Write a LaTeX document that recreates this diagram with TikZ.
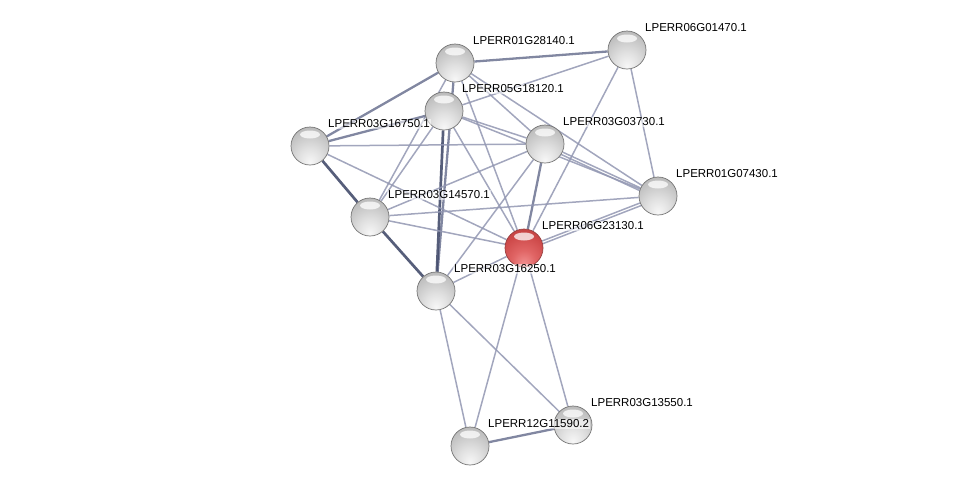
\documentclass[tikz,border=0pt]{standalone}
\usepackage{fontspec}
\setmainfont{Liberation Sans}
\usetikzlibrary{backgrounds}
\definecolor{ec1}{RGB}{146,151,178}
\definecolor{ec2}{RGB}{112,118,148}
\definecolor{ec3}{RGB}{68,76,108}
\pgfdeclareradialshading{sph}{\pgfpoint{0bp}{-22bp}}{color(0bp)=(white!97!black); color(15bp)=(white!88!black); color(32bp)=(white!76!black); color(50bp)=(white!66!black); color(65bp)=(white!58!black); color(80bp)=(white!52!black)}
\pgfdeclareradialshading{sphred}{\pgfpoint{0bp}{-22bp}}{color(0bp)=(red!40!white!95!black); color(15bp)=(red!55!white!88!black); color(32bp)=(red!65!white!80!black); color(50bp)=(red!65!white!70!black); color(65bp)=(red!65!white!60!black); color(80bp)=(red!65!white!52!black)}
\tikzset{
  prot/.style={circle, minimum size=38pt, inner sep=0pt, shading=sph, draw=black!55, line width=0.7pt},
  protred/.style={prot, shading=sphred, draw=red!45!black!75},
  lbl/.style={anchor=west, font=\fontsize{11.5}{13}\selectfont, inner sep=1pt, fill=white, fill opacity=0.55, text opacity=1},
  e1/.style={draw=ec1, line width=1.5pt, opacity=0.85},
  e2/.style={draw=ec2, line width=2.3pt, opacity=0.88},
  e3/.style={draw=ec3, line width=2.7pt, opacity=0.9},
  hl/.style={fill=white, opacity=0.75}
}
\begin{document}
\begin{tikzpicture}[x=1pt,y=-1pt]
\useasboundingbox (0,0) rectangle (976,491);
\node[prot] (A) at (455,63) {};
\node[prot] (B) at (627,50) {};
\node[prot] (C) at (444,111) {};
\node[prot] (D) at (310,146) {};
\node[prot] (E) at (545,144) {};
\node[prot] (F) at (658,196) {};
\node[prot] (G) at (370,217) {};
\node[protred] (H) at (524,248) {};
\node[prot] (I) at (436,291) {};
\node[prot] (J) at (573,425) {};
\node[prot] (K) at (470,446) {};
\foreach \n in {A,B,C,D,E,F,G,H,I,J,K}{
  \fill[hl] ([yshift=11.5pt]\n.center) ellipse (10pt and 4pt);
}
\begin{pgfonlayer}{background}
\draw[e2] (A) -- (B);
\draw[e2] (A) -- (D);
\draw[e1] (A) -- (G);
\draw[e2] (A) -- (I);
\draw[e1] (A) -- (H);
\draw[e1] (A) -- (E);
\draw[e1] (A) -- (F);
\draw[e1] (B) -- (C);
\draw[e1] (B) -- (H);
\draw[e1] (B) -- (F);
\draw[e2] (C) -- (D);
\draw[e1] (C) -- (E);
\draw[e1] (C) -- (F);
\draw[e1] (C) -- (G);
\draw[e3] (C) -- (I);
\draw[e1] (C) -- (H);
\draw[e1] (D) -- (E);
\draw[e1] (D) -- (H);
\draw[e3] (D) -- (G);
\draw[e1] (E) -- (F);
\draw[e1] ([yshift=-3pt]E.center) -- ([yshift=-3pt]F.center);
\draw[e1] (E) -- (G);
\draw[e2] (E) -- (H);
\draw[e1] (E) -- (I);
\draw[e1] (F) -- (G);
\draw[e1] (F) -- (H);
\draw[e1] ([yshift=-3pt]F.center) -- ([yshift=-3pt]H.center);
\draw[e1] (G) -- (H);
\draw[e3] (G) -- (I);
\draw[e1] (H) -- (I);
\draw[e1] (H) -- (J);
\draw[e1] (H) -- (K);
\draw[e1] (I) -- (J);
\draw[e1] (I) -- (K);
\draw[e2] (J) -- (K);
\end{pgfonlayer}
\node[lbl] (lA) at ([shift={(17pt,22pt)}]A.center) {LPERR01G28140.1};
\node[lbl] (lB) at ([shift={(17pt,22pt)}]B.center) {LPERR06G01470.1};
\node[lbl] (lC) at ([shift={(17pt,22pt)}]C.center) {LPERR05G18120.1};
\node[lbl] (lD) at ([shift={(17pt,22pt)}]D.center) {LPERR03G16750.1};
\node[lbl] (lE) at ([shift={(17pt,22pt)}]E.center) {LPERR03G03730.1};
\node[lbl] (lF) at ([shift={(17pt,22pt)}]F.center) {LPERR01G07430.1};
\node[lbl] (lG) at ([shift={(17pt,22pt)}]G.center) {LPERR03G14570.1};
\node[lbl] (lH) at ([shift={(17pt,22pt)}]H.center) {LPERR06G23130.1};
\node[lbl] (lI) at ([shift={(17pt,22pt)}]I.center) {LPERR03G16250.1};
\node[lbl] (lJ) at ([shift={(17pt,22pt)}]J.center) {LPERR03G13550.1};
\node[lbl] (lK) at ([shift={(17pt,22pt)}]K.center) {LPERR12G11590.2};
\end{tikzpicture}
\end{document}
